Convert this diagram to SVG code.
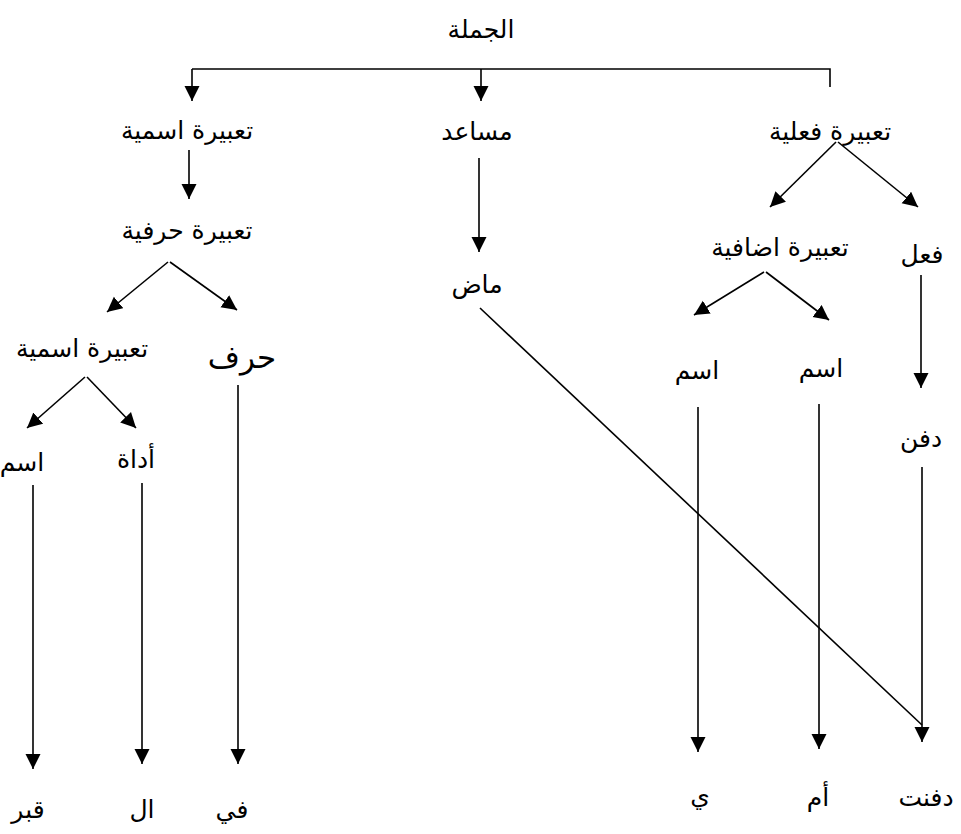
<svg xmlns="http://www.w3.org/2000/svg" width="961" height="834" viewBox="0 0 961 834">
<style>
.t{font-family:"DejaVu Sans","Liberation Serif",sans-serif;font-size:25px;fill:#000;text-anchor:middle}
.b{font-size:31px}
.c line,.c polyline{stroke:#000;stroke-width:1.6;fill:none}
.a{marker-end:url(#ah)}
</style>
<defs>
<marker id="ah" markerUnits="userSpaceOnUse" markerWidth="16" markerHeight="16" refX="15" refY="7.5" orient="auto">
<path d="M0,0 L15,7.5 L0,15 z" fill="#000"/>
</marker>
</defs>
<rect width="961" height="834" fill="#fff"/>
<g class="c" id="connectors">
<polyline points="192,69 830,69 830,87"/>
<line class="a" x1="192" y1="69" x2="192" y2="101"/>
<line class="a" x1="481" y1="69" x2="481" y2="101"/>
<line class="a" x1="189" y1="150" x2="189" y2="199"/>
<line class="a" x1="168" y1="262" x2="107" y2="312"/>
<line class="a" x1="170" y1="262" x2="237" y2="310"/>
<line class="a" x1="85" y1="377" x2="27" y2="428"/>
<line class="a" x1="87" y1="377" x2="136" y2="428"/>
<line class="a" x1="33" y1="485" x2="33" y2="769"/>
<line class="a" x1="142" y1="483" x2="142" y2="764"/>
<line class="a" x1="238" y1="385" x2="238" y2="764"/>
<line class="a" x1="479" y1="158" x2="479" y2="252"/>
<line x1="480" y1="308" x2="922" y2="725"/>
<line class="a" x1="836" y1="142" x2="770" y2="207"/>
<line class="a" x1="838" y1="142" x2="918" y2="207"/>
<line class="a" x1="921" y1="275" x2="921" y2="388"/>
<line class="a" x1="922" y1="467" x2="922" y2="742"/>
<line class="a" x1="764" y1="272" x2="694" y2="315"/>
<line class="a" x1="766" y1="272" x2="829" y2="320"/>
<line class="a" x1="698" y1="407" x2="698" y2="752"/>
<line class="a" x1="819" y1="404" x2="819" y2="749"/>
</g>
<g id="n-jumla"><text class="t" x="481" y="38">الجملة</text></g>
<g id="n-ismiya1"><text class="t" x="187" y="139">تعبيرة اسمية</text></g>
<g id="n-musaid"><text class="t" x="477" y="140">مساعد</text></g>
<g id="n-filiya"><text class="t" x="830" y="140">تعبيرة فعلية</text></g>
<g id="n-harfiya"><text class="t" x="187" y="239">تعبيرة حرفية</text></g>
<g id="n-madi"><text class="t" x="477" y="293">ماض</text></g>
<g id="n-idafiya"><text class="t" x="780" y="256">تعبيرة اضافية</text></g>
<g id="n-fil"><text class="t" x="922" y="263">فعل</text></g>
<g id="n-ismiya2"><text class="t" x="82" y="357">تعبيرة اسمية</text></g>
<g id="n-harf"><text class="t b" x="242" y="368">حرف</text></g>
<g id="n-ism1"><text class="t" x="22" y="471">اسم</text></g>
<g id="n-adat"><text class="t" x="136" y="468">أداة</text></g>
<g id="n-ism2"><text class="t" x="697" y="379">اسم</text></g>
<g id="n-ism3"><text class="t" x="821" y="377">اسم</text></g>
<g id="n-dafan"><text class="t" x="921" y="447">دفن</text></g>
<g id="n-qabr"><text class="t" x="28" y="818">قبر</text></g>
<g id="n-al"><text class="t" x="142" y="818">ال</text></g>
<g id="n-fi"><text class="t" x="232" y="818">في</text></g>
<g id="n-ya"><text class="t" x="700" y="804">ي</text></g>
<g id="n-umm"><text class="t" x="818" y="806">أم</text></g>
<g id="n-dafant"><text class="t" x="926" y="806">دفنت</text></g>
</svg>
